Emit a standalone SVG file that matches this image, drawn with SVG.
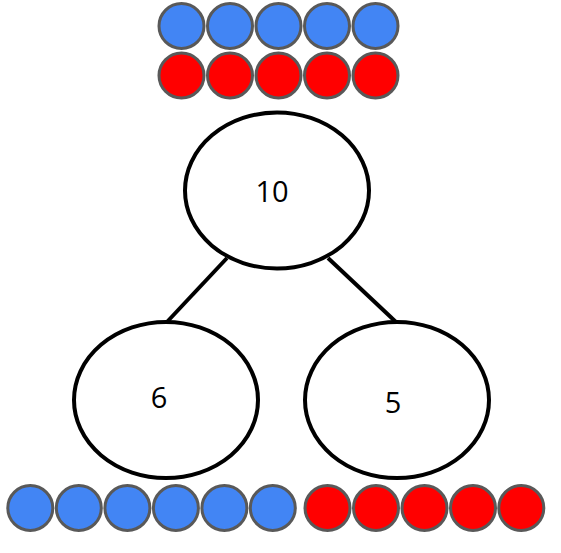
<svg xmlns="http://www.w3.org/2000/svg" width="561" height="553" viewBox="0 0 561 553">
<style>
.b{fill:#4285f4;stroke:#595959;stroke-width:3}
.r{fill:#ff0000;stroke:#595959;stroke-width:3}
.node{fill:#fff;stroke:#000;stroke-width:4}
.lbl{font-family:"Open Sans","Noto Sans",sans-serif;font-size:29px;fill:#000;text-anchor:middle}
.edge{stroke:#000;stroke-width:4;fill:none}
</style>
<rect width="561" height="553" fill="#fff"/>
<g id="top-counters">
<circle class="b" cx="181.5" cy="26" r="22.5"/>
<circle class="b" cx="230" cy="26" r="22.5"/>
<circle class="b" cx="278.5" cy="26" r="22.5"/>
<circle class="b" cx="327" cy="26" r="22.5"/>
<circle class="b" cx="375.5" cy="26" r="22.5"/>
<circle class="r" cx="181.5" cy="75.5" r="22.5"/>
<circle class="r" cx="230" cy="75.5" r="22.5"/>
<circle class="r" cx="278.5" cy="75.5" r="22.5"/>
<circle class="r" cx="327" cy="75.5" r="22.5"/>
<circle class="r" cx="375.5" cy="75.5" r="22.5"/>
</g>
<g id="connectors">
<line class="edge" x1="227" y1="258" x2="166" y2="323"/>
<line class="edge" x1="328" y1="258" x2="397" y2="323"/>
</g>
<g id="node-10">
<ellipse class="node" cx="277" cy="190.5" rx="92" ry="78"/>
<text class="lbl" x="272" y="202">10</text>
</g>
<g id="node-6">
<ellipse class="node" cx="166" cy="400" rx="92" ry="78"/>
<text class="lbl" x="159" y="408">6</text>
</g>
<g id="node-5">
<ellipse class="node" cx="397" cy="400" rx="92" ry="78"/>
<text class="lbl" x="393" y="413">5</text>
</g>
<g id="bottom-counters">
<circle class="b" cx="30.3" cy="508" r="22.5"/>
<circle class="b" cx="78.8" cy="508" r="22.5"/>
<circle class="b" cx="127.4" cy="508" r="22.5"/>
<circle class="b" cx="175.9" cy="508" r="22.5"/>
<circle class="b" cx="224.4" cy="508" r="22.5"/>
<circle class="b" cx="272.8" cy="508" r="22.5"/>
<circle class="r" cx="327.5" cy="508" r="22.5"/>
<circle class="r" cx="376" cy="508" r="22.5"/>
<circle class="r" cx="424.5" cy="508" r="22.5"/>
<circle class="r" cx="473" cy="508" r="22.5"/>
<circle class="r" cx="521.3" cy="508" r="22.5"/>
</g>
</svg>
